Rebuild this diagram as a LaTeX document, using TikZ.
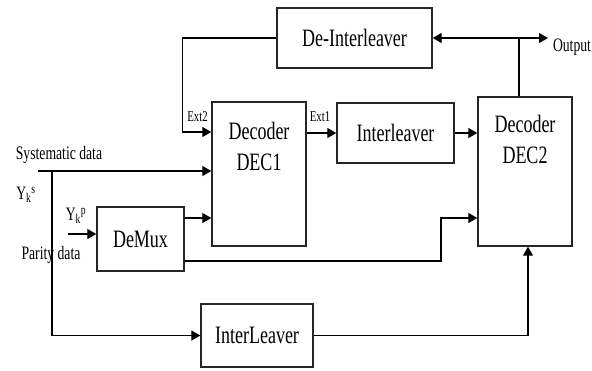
\documentclass[tikz,border=0pt]{standalone}
\usepackage{fontspec}
\setmainfont[FakeStretch=0.72]{Liberation Serif}
\usetikzlibrary{arrows.meta, positioning, calc}

\begin{document}
\begin{tikzpicture}[
    x=1pt, y=-1pt,
    box/.style={rectangle, draw=black!85, line width=1.4pt, inner sep=0pt,
                font=\fontsize{25}{30}\selectfont},
    txt/.style={font=\fontsize{25}{31}\selectfont, align=center, inner sep=0pt},
    arr/.style={-{Triangle[length=9pt,width=10pt]}, line width=1.3pt},
    ln/.style={line width=1.3pt},
    lab/.style={font=\fontsize{19}{22}\selectfont, inner sep=0pt},
    ext/.style={font=\fontsize{15}{17}\selectfont, inner sep=0pt},
  ]
  \useasboundingbox (0,0) rectangle (592,370);

  % blocks
  \node[box, minimum width=155pt, minimum height=60pt] (deint) at (354.5,38) {De-Interleaver};
  \node[box, minimum width=94pt, minimum height=144pt] (dec1) at (259,174) {};
  \node[txt] (dec1txt) at (259,146) {Decoder\\DEC1};
  \node[box, minimum width=117pt, minimum height=60pt] (interl) at (395.5,133) {Interleaver};
  \node[box, minimum width=94pt, minimum height=149pt] (dec2) at (525,171.5) {};
  \node[txt] (dec2txt) at (525,139) {Decoder\\DEC2};
  \node[box, minimum width=87pt, minimum height=64pt] (demux) at (140.5,239) {DeMux};
  \node[box, minimum width=112pt, minimum height=63pt] (ileav) at (257,335.5) {InterLeaver};

  % free ends
  \coordinate (jn) at (519,38);
  \coordinate (outp) at (548,38);
  \coordinate (sys) at (38,171);
  \coordinate (ypin) at (68,234);

  % feedback through de-interleaver
  \draw[ln] (dec2.north -| jn) -- (jn);
  \draw[arr] (jn) -- (deint.east);
  \draw[arr] (jn) -- (outp);
  \draw[arr] (deint.west) -- ++(-94,0) |- (dec1.west |- 0,132);

  % extrinsic path
  \draw[arr] (dec1.east |- interl.west) -- (interl.west);
  \draw[arr] (interl.east) -- (interl.east -| dec2.west);

  % systematic and parity inputs
  \draw[arr] (sys) -- (sys -| dec1.west);
  \draw[arr] (sys -| 52,0) |- (ileav.west);
  \draw[arr] (ypin) -- (ypin -| demux.west);
  \draw[arr] (demux.east |- 0,218) -- (dec1.west |- 0,218);
  \draw[arr] (demux.east |- 0,261) -| (441,218) -- (dec2.west |- 0,218);
  \draw[arr] (ileav.east) -| (dec2.south -| 528,0);

  % labels
  \node[ext] (ext2) at (197.5,117) {Ext2};
  \node[ext] (ext1) at (320,117) {Ext1};
  \node[lab] (outlab) at (572,47) {Output};
  \node[lab] (syslab) at (59,155) {Systematic data};
  \node[lab] (yslab) at (26,195) {Y\textsubscript{k}\textsuperscript{s}};
  \node[lab] (yplab) at (76,216) {Y\textsubscript{k}\textsuperscript{p}};
  \node[lab] (parlab) at (51,255) {Parity data};
\end{tikzpicture}
\end{document}
